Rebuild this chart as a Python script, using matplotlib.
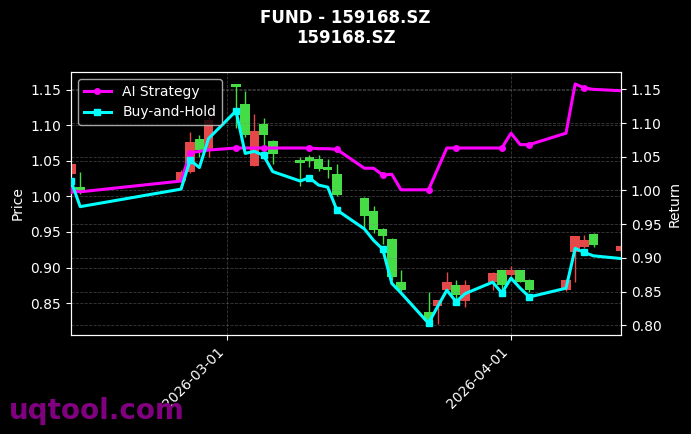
import pandas as pd
import numpy as np
import matplotlib
matplotlib.use('Agg')
import matplotlib.pyplot as plt
import matplotlib.dates as mdates

# Trading days (gap = Spring Festival / Qingming holidays)
dates = pd.to_datetime([
    '2026-02-12', '2026-02-13', '2026-02-24', '2026-02-25', '2026-02-26', '2026-02-27',
    '2026-03-02', '2026-03-03', '2026-03-04', '2026-03-05', '2026-03-06',
    '2026-03-09', '2026-03-10', '2026-03-11', '2026-03-12', '2026-03-13',
    '2026-03-16', '2026-03-17', '2026-03-18', '2026-03-19', '2026-03-20',
    '2026-03-23', '2026-03-24', '2026-03-25', '2026-03-26', '2026-03-27',
    '2026-03-30', '2026-03-31', '2026-04-01', '2026-04-02', '2026-04-03',
    '2026-04-07', '2026-04-08', '2026-04-09', '2026-04-10', '2026-04-13',
])

opens = [1.031, 1.013, 1.022, 1.035, 1.081, 1.065,
         1.158, 1.130, 1.043, 1.102, 1.078,
         1.051, 1.056, 1.053, 1.042, 1.032,
         0.998, 0.980, 0.954, 0.940, 0.880,
         0.837, 0.846, 0.869, 0.875, 0.853,
         0.880, 0.896, 0.889, 0.896, 0.883,
         0.868, 0.922, 0.929, 0.947, 0.923]
closes = [1.045, 1.007, 1.035, 1.077, 1.066, 1.108,
          1.154, 1.087, 1.092, 1.086, 1.059,
          1.047, 1.050, 1.039, 1.037, 1.002,
          0.973, 0.953, 0.944, 0.887, 0.868,
          0.825, 0.854, 0.880, 0.861, 0.875,
          0.892, 0.876, 0.897, 0.880, 0.868,
          0.883, 0.944, 0.939, 0.931, 0.930]
highs = [1.046, 1.035, 1.037, 1.090, 1.086, 1.112,
         1.158, 1.149, 1.116, 1.111, 1.079,
         1.056, 1.058, 1.058, 1.053, 1.045,
         0.999, 0.987, 0.955, 0.941, 0.897,
         0.865, 0.855, 0.893, 0.882, 0.882,
         0.893, 0.897, 0.902, 0.897, 0.884,
         0.884, 0.945, 0.946, 0.948, 0.931]
lows = [1.030, 1.004, 1.020, 1.033, 1.055, 1.055,
        1.096, 1.084, 1.043, 1.070, 1.045,
        1.014, 1.042, 1.036, 1.026, 1.001,
        0.955, 0.948, 0.933, 0.882, 0.867,
        0.822, 0.821, 0.868, 0.854, 0.845,
        0.868, 0.864, 0.888, 0.879, 0.865,
        0.867, 0.880, 0.927, 0.929, 0.922]

strategy = [1.000, 0.998, 1.014, 1.056, 1.058, 1.060,
            1.063, 1.063, 1.063, 1.063, 1.063,
            1.063, 1.063, 1.062, 1.062, 1.061,
            1.033, 1.033, 1.023, 1.024, 1.001,
            1.001, 1.032, 1.063, 1.063, 1.063,
            1.063, 1.063, 1.085, 1.068, 1.068,
            1.085, 1.158, 1.152, 1.150, 1.148]
buy_hold = [1.014, 0.976, 1.002, 1.045, 1.034, 1.077,
            1.118, 1.055, 1.058, 1.052, 1.028,
            1.014, 1.019, 1.008, 1.005, 0.971,
            0.943, 0.926, 0.913, 0.862, 0.848,
            0.803, 0.828, 0.852, 0.835, 0.847,
            0.864, 0.848, 0.870, 0.855, 0.842,
            0.855, 0.914, 0.908, 0.903, 0.899]

df = pd.DataFrame({'open': opens, 'high': highs, 'low': lows, 'close': closes}, index=dates)

up_color = '#e54848'
down_color = '#45dc45'

fig = plt.figure(figsize=(6.91, 4.34), dpi=100, facecolor='black')
ax = fig.add_axes([0.1028, 0.228, 0.7959, 0.606], facecolor='black')

# Candles: red = up, green = down
colors = [up_color if c >= o else down_color for o, c in zip(df['open'], df['close'])]
ax.vlines(df.index, df['low'], df['high'], colors=colors, linewidth=1, zorder=2)
ax.bar(df.index, df['close'] - df['open'], bottom=df['open'], width=1.05,
       color=colors, linewidth=0, zorder=3)

ax.set_xlim(dates[0], dates[-1])
ax.set_ylim(0.805, 1.175)
ax.set_ylabel('Price', color='white', fontsize=10)
ax.xaxis.set_major_locator(mdates.MonthLocator())
ax.xaxis.set_major_formatter(mdates.DateFormatter('%Y-%m-%d'))
plt.setp(ax.get_xticklabels(), rotation=45, ha='right')
ax.grid(True, linestyle='--', color='gray', alpha=0.45, linewidth=0.6)

ax2 = ax.twinx()
ax2.plot(dates, strategy, color='#ff00ff', linewidth=2.2, marker='o', markersize=4,
         markevery=3, label='AI Strategy', zorder=4)
ax2.plot(dates, buy_hold, color='#00ffff', linewidth=2.2, marker='s', markersize=4,
         markevery=3, label='Buy-and-Hold', zorder=4)
ax2.set_ylim(0.7855, 1.1757)
ax2.set_ylabel('Return', color='white', fontsize=10)
ax2.grid(True, axis='y', linestyle='--', color='gray', alpha=0.45, linewidth=0.6)

for a in (ax, ax2):
    a.tick_params(colors='white', labelsize=10)
    for s in a.spines.values():
        s.set_color('white')

leg = ax2.legend(loc='upper left', facecolor='black', edgecolor='#cccccc',
                 fontsize=10, framealpha=0.8)
for t in leg.get_texts():
    t.set_color('white')

fig.suptitle('FUND - 159168.SZ\n159168.SZ', color='white', fontweight='bold',
             fontsize=12, y=0.98)
fig.text(0.013, 0.035, 'uqtool.com', color='purple', fontsize=20, fontweight='bold')

fig.savefig('out.png', dpi=100, facecolor='black')
